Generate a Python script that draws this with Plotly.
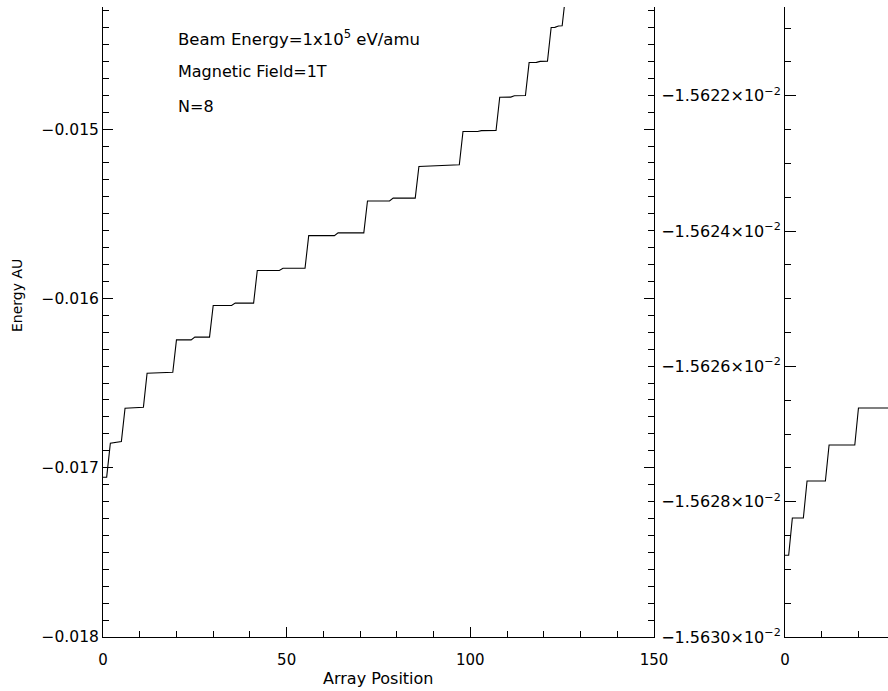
import plotly.graph_objects as go
import numpy as np

# ---------------- data ----------------
# Left panel: sorted energy levels, corner points of the staircase
pos_left = [0, 1, 2, 5, 6, 11, 12, 19, 20, 24, 25, 29, 30, 35, 36, 41, 42, 48, 49, 55,
            56, 63, 64, 71, 72, 78, 79, 85, 86, 91, 92, 97, 98, 102, 103, 107, 108, 111,
            112, 115, 116, 118, 119, 121, 122, 123, 124, 125, 126, 127]
energy_left = [-0.017056, -0.017056, -0.016855, -0.016845, -0.016649, -0.016643,
               -0.016442, -0.016436, -0.016245, -0.016245, -0.016229, -0.016229,
               -0.016042, -0.016042, -0.016028, -0.016028, -0.015835, -0.015835,
               -0.015822, -0.015822, -0.015629, -0.015629, -0.015613, -0.015613,
               -0.015425, -0.015425, -0.015408, -0.015408, -0.015221, -0.015217,
               -0.015213, -0.015211, -0.015014, -0.015014, -0.015009, -0.015008,
               -0.014812, -0.014811, -0.014803, -0.014802, -0.014607, -0.014606,
               -0.014600, -0.014599, -0.014400, -0.014399, -0.014391, -0.014390,
               -0.014195, -0.014190]

# Right panel: zoomed-in energy levels
pos_right = [0, 1, 2, 5, 6, 11, 12, 19, 20, 29]
energy_right = [-0.0156287920, -0.0156287920, -0.0156282410, -0.0156282410,
                -0.0156276940, -0.0156276940, -0.0156271620, -0.0156271620,
                -0.0156266150, -0.0156266150]

# tick labels
left_ytick_vals = [-0.018, -0.017, -0.016, -0.015]
left_ytick_text = ["\u22120.018", "\u22120.017", "\u22120.016", "\u22120.015"]
left_xtick_vals = [0, 50, 100, 150]
left_xtick_text = ["0", "50", "100", "150"]
right_ytick_vals = [-0.015630, -0.015628, -0.015626, -0.015624, -0.015622]
right_ytick_text = ["\u22121.5630\u00d710<sup>\u22122</sup>", "\u22121.5628\u00d710<sup>\u22122</sup>",
                    "\u22121.5626\u00d710<sup>\u22122</sup>", "\u22121.5624\u00d710<sup>\u22122</sup>",
                    "\u22121.5622\u00d710<sup>\u22122</sup>"]
right_xtick_vals = [0, 50]
right_xtick_text = ["0", "50"]

# ---------------- layout geometry ----------------
W, H = 888, 691
L, T, B, R = 103, 7, 54, 0
PW, PH = W - L - R, H - T - B


def px_x(px):
    return (px - L) / PW


def px_y(py):
    return (H - B - py) / PH


FONT = "DejaVu Sans"
FS = 15
INK = "#000000"

fig = go.Figure()
fig.add_trace(go.Scatter(x=pos_left, y=energy_left, mode="lines",
                         line=dict(color=INK, width=1.1), xaxis="x", yaxis="y",
                         showlegend=False, hoverinfo="skip"))
fig.add_trace(go.Scatter(x=pos_right, y=energy_right, mode="lines",
                         line=dict(color=INK, width=1.1), xaxis="x2", yaxis="y2",
                         showlegend=False, hoverinfo="skip"))

axis_common = dict(showgrid=False, zeroline=False, showline=True, linecolor=INK,
                   linewidth=1, ticks="inside", tickcolor=INK, tickwidth=1,
                   automargin=False,
                   tickfont=dict(family=FONT, size=FS, color=INK))

left_y_minor = list(np.round(np.arange(-0.018, -0.0142, 0.0001), 6))
right_y_minor = list(np.round(np.arange(-0.015630, -0.0156205, 0.0000005), 9))

fig.update_layout(
    width=W, height=H, autosize=False,
    margin=dict(l=L, r=R, t=T, b=B, pad=0, autoexpand=False),
    paper_bgcolor="white", plot_bgcolor="white",
    xaxis=dict(axis_common, domain=[0, px_x(654)], range=[0, 150], anchor="y",
               tickmode="array", tickvals=left_xtick_vals, ticktext=left_xtick_text,
               ticklen=10, ticklabelstandoff=9,
               minor=dict(tickmode="linear", tick0=0, dtick=10, ticks="inside",
                          ticklen=6, tickcolor=INK, tickwidth=1)),
    yaxis=dict(axis_common, domain=[0, 1], range=[-0.018, -0.018 + 630 / 169300],
               anchor="x", mirror="ticks",
               tickmode="array", tickvals=left_ytick_vals, ticktext=left_ytick_text,
               ticklen=10, tickfont=dict(family=FONT, size=15.5, color=INK),
               minor=dict(tickmode="array", tickvals=left_y_minor, ticks="inside",
                          ticklen=6, tickcolor=INK, tickwidth=1)),
    xaxis2=dict(axis_common, domain=[px_x(785), 1], range=[0, (888 - 785) / 3.673],
                anchor="y2",
                tickmode="array", tickvals=right_xtick_vals, ticktext=right_xtick_text,
                ticklen=10, ticklabelstandoff=9,
                minor=dict(tickmode="linear", tick0=0, dtick=10, ticks="inside",
                           ticklen=6, tickcolor=INK, tickwidth=1)),
    yaxis2=dict(axis_common, domain=[0, 1],
                range=[-0.015630, -0.015630 + 630 / 135.3 * 2e-6], anchor="x2",
                tickmode="array", tickvals=right_ytick_vals, ticktext=right_ytick_text,
                ticklen=11, tickfont=dict(family=FONT, size=16, color=INK),
                minor=dict(tickmode="array", tickvals=right_y_minor, ticks="inside",
                           ticklen=6, tickcolor=INK, tickwidth=1)),
)

ann_font = dict(family=FONT, size=16, color=INK)
fig.add_annotation(text="Beam Energy=1x10<sup>5</sup> eV/amu", xref="paper", yref="paper",
                   x=px_x(175.5), y=px_y(38), xanchor="left", yanchor="middle",
                   showarrow=False, font=dict(family=FONT, size=16.5, color=INK))
fig.add_annotation(text="Magnetic Field=1T", xref="paper", yref="paper",
                   x=px_x(175.5), y=px_y(72), xanchor="left", yanchor="middle",
                   showarrow=False, font=ann_font)
fig.add_annotation(text="N=8", xref="paper", yref="paper",
                   x=px_x(175.5), y=px_y(106.5), xanchor="left", yanchor="middle",
                   showarrow=False, font=ann_font)
fig.add_annotation(text="Energy AU", xref="paper", yref="paper",
                   x=px_x(17), y=px_y(296), xanchor="center", yanchor="middle",
                   textangle=-90, showarrow=False,
                   font=dict(family=FONT, size=14, color=INK))
fig.add_annotation(text="Array Position", xref="paper", yref="paper",
                   x=px_x(378), y=px_y(678), xanchor="center", yanchor="middle",
                   showarrow=False, font=ann_font)

fig.write_html("out.html")
